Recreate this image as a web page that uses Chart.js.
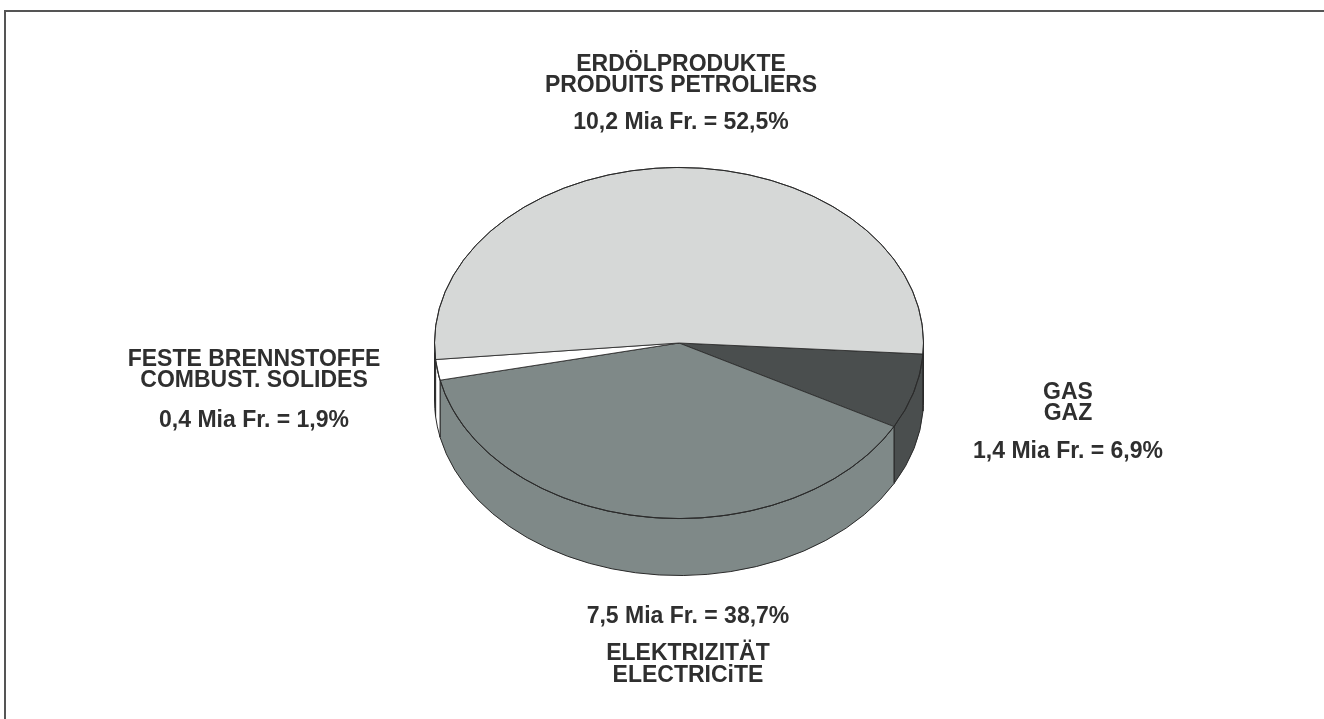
<!DOCTYPE html>
<html>
<head>
<meta charset="utf-8">
<script src="https://cdn.jsdelivr.net/npm/chart.js@4.4.1/dist/chart.umd.min.js"></script>
<style>
  html, body { margin: 0; padding: 0; background: #fff; }
  canvas { display: block; }
</style>
</head>
<body>
<canvas id="myChart" width="1324" height="719"></canvas>
<script>
// slices in drawing order, starting just below 3 o'clock, clockwise
const categories = ["Gas", "Elektrizität", "Feste Brennstoffe", "Erdölprodukte"];
const labelLines = [
  ["GAS", "GAZ"],
  ["ELEKTRIZITÄT", "ELECTRICiTE"],
  ["FESTE BRENNSTOFFE", "COMBUST. SOLIDES"],
  ["ERDÖLPRODUKTE", "PRODUITS PETROLIERS"]
];
const valuesMiaFr = [1.4, 7.5, 0.4, 10.2];
const sharesPct = [6.9, 38.7, 1.9, 52.5];

const sliceColors = ["#4a4e4e", "#7f8988", "#ffffff", "#d6d8d7"];

// tilt of the pie: vertical squash and depth of the rim
const squash = 0.718;
const depth = 57;

function fmt(v) {
  return v.toFixed(1).replace(".", ",");
}

// where each label block sits: x centre, baselines of name lines and value line
const labelPlace = [
  { x: 1068, names: [399, 420], value: 458 },
  { x: 688, names: [660, 682], value: 623 },
  { x: 254, names: [366, 387], value: 427 },
  { x: 681, names: [71, 92], value: 129 }
];

const pie3d = {
  id: "pie3d",
  beforeDatasetsDraw(chart) {
    const ctx = chart.ctx;
    const meta = chart.getDatasetMeta(0);
    const first = meta.data[0];
    const cx = first.x, cy = first.y;

    // rim of the front half
    meta.data.forEach((arc, i) => {
      const r = arc.outerRadius;
      for (let k = -1; k <= 1; k++) {
        const a = Math.max(arc.startAngle, k * 2 * Math.PI);
        const b = Math.min(arc.endAngle, k * 2 * Math.PI + Math.PI);
        if (b <= a) continue;
        ctx.save();
        ctx.beginPath();
        ctx.ellipse(cx, cy, r, r * squash, 0, a, b, false);
        ctx.ellipse(cx, cy + depth, r, r * squash, 0, b, a, true);
        ctx.closePath();
        ctx.fillStyle = arc.options.backgroundColor;
        ctx.fill();
        ctx.lineWidth = 1;
        ctx.strokeStyle = "#2a2a2a";
        ctx.stroke();
        ctx.restore();
      }
    });

    // squash the top face
    ctx.save();
    ctx.translate(cx, cy);
    ctx.scale(1, squash);
    ctx.translate(-cx, -cy);
  },
  afterDatasetsDraw(chart) {
    const ctx = chart.ctx;
    ctx.restore();

    const meta = chart.getDatasetMeta(0);
    const first = meta.data[0];
    ctx.save();
    ctx.beginPath();
    ctx.ellipse(first.x, first.y, first.outerRadius, first.outerRadius * squash, 0, 0, Math.PI * 2);
    ctx.lineWidth = 1;
    ctx.strokeStyle = "#2a2a2a";
    ctx.stroke();
    ctx.restore();
  },
  afterDraw(chart) {
    const ctx = chart.ctx;
    ctx.save();
    // frame
    ctx.strokeStyle = "#555";
    ctx.lineWidth = 2;
    ctx.beginPath();
    ctx.moveTo(1324, 11);
    ctx.lineTo(5, 11);
    ctx.lineTo(5, 719);
    ctx.stroke();

    // labels
    ctx.fillStyle = "#2f2f2f";
    ctx.font = 'bold 23px "Liberation Sans", Arial, sans-serif';
    ctx.textAlign = "center";
    ctx.textBaseline = "alphabetic";
    labelLines.forEach((lines, i) => {
      const p = labelPlace[i];
      lines.forEach((t, j) => ctx.fillText(t, p.x, p.names[j]));
      const val = fmt(valuesMiaFr[i]) + " Mia Fr. = " + fmt(sharesPct[i]) + "%";
      ctx.fillText(val, p.x, p.value);
    });
    ctx.restore();
  }
};

const data = {
  labels: categories,
  datasets: [
    {
      data: sharesPct,
      backgroundColor: sliceColors,
      borderColor: "#2a2a2a",
      borderWidth: 1
    }
  ]
};

const config = {
  type: "pie",
  data: data,
  options: {
    responsive: false,
    animation: false,
    devicePixelRatio: 1,
    rotation: 93.6,
    layout: {
      padding: { top: 98, bottom: 131, left: 200, right: 166 }
    },
    plugins: {
      legend: { display: false },
      tooltip: { enabled: false }
    }
  },
  plugins: [pie3d]
};

const myChart = new Chart(document.getElementById("myChart"), config);
</script>
</body>
</html>
